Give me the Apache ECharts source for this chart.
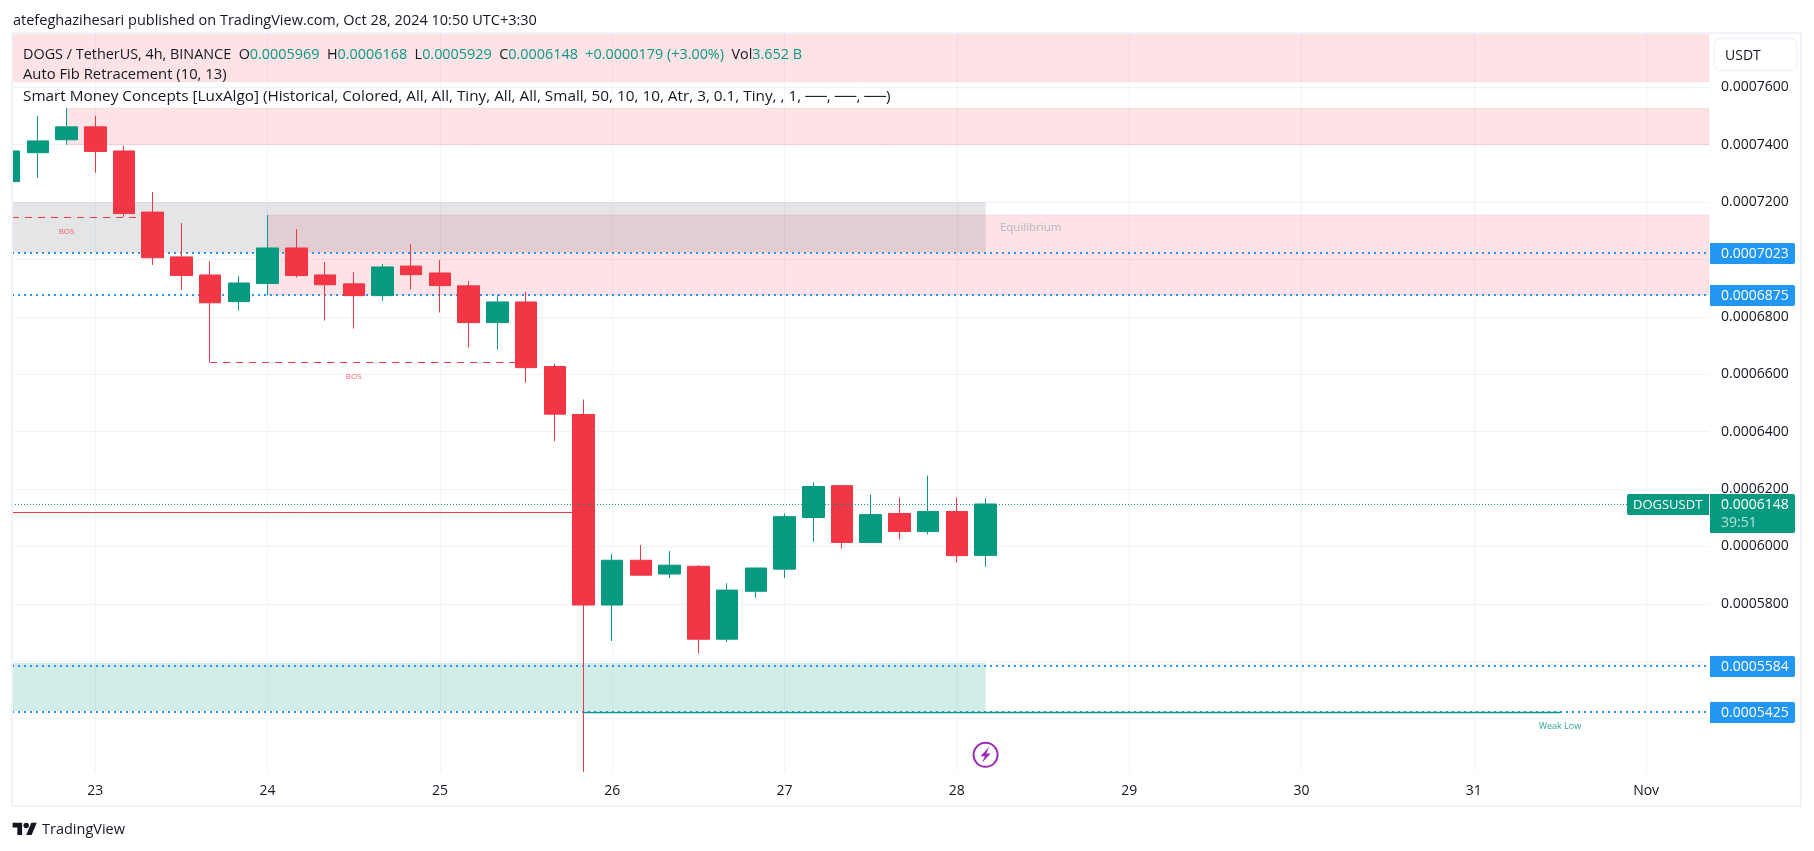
<!DOCTYPE html>
<html>
<head>
<meta charset="utf-8">
<title>DOGS / TetherUS</title>
<script src="https://cdn.jsdelivr.net/npm/echarts@6/dist/echarts.min.js"></script>
<style>
  html, body { margin: 0; padding: 0; background: #fff; }
  #chart { width: 1814px; height: 851px; }
</style>
</head>
<body>
<div id="chart"></div>
<script>
// 4h candles (first one is cut by the pane edge)
const opens = [0.0007271, 0.0007372, 0.0007417, 0.0007462, 0.0007378, 0.0007165, 0.0007009, 0.0006946, 0.0006853, 0.0006916,
  0.000704, 0.0006946, 0.0006915, 0.0006874, 0.0006977, 0.0006953, 0.0006908, 0.000678, 0.0006852, 0.0006627,
  0.000646, 0.0005796, 0.0005952, 0.0005904, 0.0005931, 0.0005677, 0.0005844, 0.0005921, 0.0006101, 0.0006212,
  0.0006014, 0.0006115, 0.0006052, 0.0006122, 0.0005969];
const closes = [0.0007378, 0.0007413, 0.0007462, 0.0007376, 0.000716, 0.0007006, 0.0006944, 0.0006849, 0.0006918, 0.000704,
  0.0006944, 0.0006912, 0.0006874, 0.0006974, 0.0006947, 0.0006909, 0.000678, 0.0006852, 0.0006623, 0.0006461,
  0.0005796, 0.0005952, 0.00059, 0.0005935, 0.0005677, 0.0005848, 0.0005925, 0.0006104, 0.0006209, 0.0006014,
  0.0006111, 0.0006052, 0.0006122, 0.0005968, 0.0006148];
const lows = [0.0007271, 0.0007285, 0.00074, 0.0007302, 0.0007148, 0.0006981, 0.0006894, 0.0006642, 0.0006822, 0.0006876,
  0.0006937, 0.0006787, 0.0006759, 0.0006856, 0.0006895, 0.0006815, 0.0006693, 0.0006686, 0.0006571, 0.0006367,
  0.0005215, 0.0005671, 0.00059, 0.000589, 0.0005628, 0.0005667, 0.0005823, 0.000589, 0.0006017, 0.0005993,
  0.0006014, 0.0006024, 0.0006042, 0.0005944, 0.0005929];
const highs = [0.0007378, 0.00075, 0.0007527, 0.00075, 0.0007395, 0.0007235, 0.0007127, 0.0006995, 0.0006942, 0.0007155,
  0.0007106, 0.0006991, 0.0006956, 0.0006984, 0.0007054, 0.0006998, 0.0006925, 0.0006876, 0.0006887, 0.0006637,
  0.0006512, 0.0005973, 0.0006005, 0.0005984, 0.0005935, 0.0005872, 0.0005925, 0.0006115, 0.0006223, 0.0006212,
  0.0006181, 0.0006171, 0.0006247, 0.0006171, 0.0006168];

const dayTicks = [3, 9, 15, 21, 27, 33, 39, 45, 51, 57];
const dayLabels = ['23', '24', '25', '26', '27', '28', '29', '30', '31', 'Nov'];
const priceTicks = [0.00054, 0.00056, 0.00058, 0.0006, 0.00062, 0.00064, 0.00066, 0.00068, 0.0007, 0.00072, 0.00074, 0.00076];
// 0.00056 sits fully behind the 0.0005584 tag
const priceLabels = [0.00054, 0.00058, 0.0006, 0.00062, 0.00064, 0.00066, 0.00068, 0.0007, 0.00072, 0.00074, 0.00076];

const xMin = 0.1;
const xMax = 59.19;
const yMin = 0.00052143;
const yMax = 0.0007789;

// smart money zones
const zoneKinds = ['supply', 'supply', 'supply', 'equilibrium', 'demand'];
const zoneStarts = [xMin, 2, 9, xMin, xMin];
const zoneEnds = [xMax, xMax, xMax, 34, 34];
const zoneTops = [yMax, 0.0007527, 0.0007155, 0.00072, 0.0005594];
const zoneBottoms = [0.000762, 0.0007399, 0.0006876, 0.0007023, 0.0005427];

// BOS dashes, red level, weak low line
const segmentKinds = ['bos', 'bos', 'red', 'weak'];
const segmentStarts = [xMin, 7, xMin, 20];
const segmentEnds = [4.47, 18, 20, 54];
const segmentValues = [0.0007147, 0.0006642, 0.0006121, 0.0005422];

const noteTexts = ['BOS', 'BOS', 'Equilibrium', 'Weak Low'];
const noteKinds = ['bos', 'bos', 'equilibrium', 'weak'];
const noteSlots = [2, 12, 34.5, 54];
const noteValues = [0.0007096, 0.0006591, 0.000711, 0.0005372];

const levelValues = [0.0007023, 0.0006875, 0.0005584, 0.0005425];
const lastPrice = 0.0006148;
const countdown = '39:51';
const eventSlot = 34;
const eventValue = 0.0005274;

const UP = '#089981';
const DOWN = '#f23645';
const BLUE = '#2196f3';
const INK = '#131722';
const GRID = '#f0f3fa';
const FONT = '"Open Sans", sans-serif';

const zoneStyles = {
  supply: { fill: 'rgba(242,54,69,0.14)', stroke: 'rgba(242,54,69,0.1)' },
  equilibrium: { fill: 'rgba(120,123,134,0.2)', stroke: 'none' },
  demand: { fill: 'rgba(8,153,129,0.18)', stroke: 'none' }
};
const segmentStyles = {
  bos: { stroke: DOWN, lineWidth: 1, lineDash: [7, 6] },
  red: { stroke: DOWN, lineWidth: 1 },
  weak: { stroke: UP, lineWidth: 1.5 }
};
const noteStyles = {
  bos: { fill: 'rgba(242,54,69,0.8)', font: '8px ' + FONT, align: 'center' },
  equilibrium: { fill: '#b2b5be', font: '500 11.5px ' + FONT, align: 'left' },
  weak: { fill: 'rgba(8,153,129,0.85)', font: '9px ' + FONT, align: 'center' }
};

const candles = opens.map((o, i) => [i, o, closes[i], lows[i], highs[i]]);

function priceBox(y0, h, color) {
  return { type: 'rect', shape: { x: 1710, y: y0, width: 85, height: h, r: [0, 2, 2, 0] }, style: { fill: color } };
}
function priceText(text, y, color) {
  return { type: 'text', style: { text: text, x: 1721, y: y, fill: color, font: '14px ' + FONT, verticalAlign: 'middle' } };
}

const chart = echarts.init(document.getElementById('chart'));
chart.setOption({
  animation: false,
  backgroundColor: '#fff',
  textStyle: { fontFamily: FONT },
  grid: { left: 12, top: 33, width: 1697, height: 739 },
  xAxis: {
    type: 'value',
    min: xMin,
    max: xMax,
    axisLine: { show: false },
    axisTick: { show: false, customValues: dayTicks },
    splitLine: { show: true, lineStyle: { color: GRID, width: 1 } },
    axisLabel: {
      customValues: dayTicks,
      color: INK,
      fontSize: 14,
      margin: 12,
      formatter: v => dayLabels[dayTicks.indexOf(v)]
    }
  },
  yAxis: {
    type: 'value',
    position: 'right',
    min: yMin,
    max: yMax,
    axisLine: { show: false },
    axisTick: { show: false, customValues: priceTicks },
    splitLine: { show: true, lineStyle: { color: GRID, width: 1 } },
    axisLabel: {
      customValues: priceLabels,
      color: INK,
      fontSize: 14,
      margin: 12,
      padding: [3, 0, 0, 0],
      formatter: v => v.toFixed(7)
    }
  },
  series: [
    {
      name: 'zones',
      type: 'custom',
      z: 1,
      clip: true,
      silent: true,
      data: zoneKinds.map((k, i) => [zoneStarts[i], zoneEnds[i], zoneTops[i], zoneBottoms[i]]),
      encode: { x: [0, 1], y: [2, 3] },
      renderItem(params, api) {
        const a = api.coord([api.value(0), api.value(2)]);
        const b = api.coord([api.value(1), api.value(3)]);
        return {
          type: 'rect',
          shape: { x: a[0], y: a[1], width: b[0] - a[0], height: b[1] - a[1] },
          style: zoneStyles[zoneKinds[params.dataIndex]]
        };
      }
    },
    {
      name: 'levels',
      type: 'custom',
      z: 2,
      silent: true,
      data: levelValues.map(v => [xMin, v]),
      encode: { x: 0, y: 1 },
      renderItem(params, api) {
        const p = api.coord([xMin, api.value(1)]);
        const end = api.coord([xMax, api.value(1)]);
        const y = Math.round(p[1]);
        return {
          type: 'line',
          shape: { x1: p[0], y1: y, x2: end[0], y2: y },
          style: { stroke: BLUE, lineWidth: 2, lineDash: [2, 4] }
        };
      }
    },
    {
      name: 'segments',
      type: 'custom',
      z: 3,
      silent: true,
      data: segmentKinds.map((k, i) => [segmentStarts[i], segmentEnds[i], segmentValues[i]]),
      encode: { x: [0, 1], y: 2 },
      renderItem(params, api) {
        const a = api.coord([api.value(0), api.value(2)]);
        const b = api.coord([api.value(1), api.value(2)]);
        const y = Math.round(a[1]) + 0.5;
        return {
          type: 'line',
          shape: { x1: a[0], y1: y, x2: b[0], y2: y },
          style: segmentStyles[segmentKinds[params.dataIndex]]
        };
      }
    },
    {
      name: 'DOGSUSDT',
      type: 'candlestick',
      z: 5,
      barWidth: 22,
      clip: true,
      silent: true,
      data: candles,
      encode: { x: 0, y: [1, 2, 3, 4] },
      itemStyle: { color: UP, color0: DOWN, borderColor: UP, borderColor0: DOWN, borderWidth: 1 }
    },
    {
      name: 'last price',
      type: 'custom',
      z: 6,
      silent: true,
      data: [[xMin, lastPrice]],
      encode: { x: 0, y: 1 },
      renderItem(params, api) {
        const p = api.coord([xMin, api.value(1)]);
        const y = Math.round(p[1]) + 0.5;
        return {
          type: 'line',
          shape: { x1: p[0], y1: y, x2: 1627, y2: y },
          style: { stroke: UP, lineWidth: 1, lineDash: [1, 2] }
        };
      }
    },
    {
      name: 'notes',
      type: 'custom',
      z: 7,
      silent: true,
      data: noteTexts.map((t, i) => [noteSlots[i], noteValues[i]]),
      encode: { x: 0, y: 1 },
      renderItem(params, api) {
        const p = api.coord([api.value(0), api.value(1)]);
        const s = noteStyles[noteKinds[params.dataIndex]];
        return {
          type: 'text',
          style: { text: noteTexts[params.dataIndex], x: p[0], y: p[1], fill: s.fill, font: s.font, align: s.align, verticalAlign: 'middle' }
        };
      }
    },
    {
      name: 'event',
      type: 'custom',
      z: 7,
      silent: true,
      data: [[eventSlot, eventValue]],
      encode: { x: 0, y: 1 },
      renderItem(params, api) {
        const p = api.coord([api.value(0), api.value(1)]);
        return {
          type: 'group',
          children: [
            { type: 'circle', shape: { cx: p[0], cy: p[1], r: 12 }, style: { fill: '#fff', stroke: '#9c27b0', lineWidth: 2 } },
            {
              type: 'path',
              shape: { pathData: 'M17 1L5 14h6l-4 9 12-13h-6z', layout: 'center', x: p[0] - 7, y: p[1] - 8, width: 14, height: 16 },
              style: { fill: '#9c27b0' }
            }
          ]
        };
      }
    },
    {
      name: 'price labels',
      type: 'custom',
      z: 20,
      silent: true,
      data: levelValues.map(v => [xMax, v]),
      encode: { x: 0, y: 1 },
      renderItem(params, api) {
        const y = Math.round(api.coord([xMax, api.value(1)])[1]);
        return {
          type: 'group',
          children: [
            priceBox(y - 10, 21, BLUE),
            priceText(api.value(1).toFixed(7), y + 1.5, '#fff')
          ]
        };
      }
    },
    {
      name: 'last price label',
      type: 'custom',
      z: 20,
      silent: true,
      data: [[xMax, lastPrice]],
      encode: { x: 0, y: 1 },
      renderItem(params, api) {
        const y = Math.round(api.coord([xMax, api.value(1)])[1]);
        return {
          type: 'group',
          children: [
            { type: 'rect', shape: { x: 1627, y: y - 10, width: 82, height: 21, r: [2, 0, 0, 2] }, style: { fill: UP } },
            { type: 'text', style: { text: 'DOGSUSDT', x: 1633, y: y + 1, fill: '#fff', font: '13px ' + FONT, verticalAlign: 'middle' } },
            priceBox(y - 10, 39, UP),
            priceText(api.value(1).toFixed(7), y + 1.5, '#fff'),
            priceText(countdown, y + 19.5, 'rgba(255,255,255,0.7)')
          ]
        };
      }
    }
  ],
  graphic: [
    // hides the part of the first candle that falls left of the pane
    { type: 'rect', z: 29, silent: true, shape: { x: 0, y: 33, width: 12, height: 740 }, style: { fill: '#fff' } },
    { type: 'rect', z: 30, silent: true, shape: { x: 12, y: 33, width: 1789, height: 773 }, style: { fill: 'none', stroke: GRID, lineWidth: 2 } },
    { type: 'text', z: 30, silent: true, style: { x: 13, y: 21, text: 'atefeghazihesari published on TradingView.com, Oct 28, 2024 10:50 UTC+3:30', fill: INK, font: '14.5px ' + FONT, verticalAlign: 'middle' } },
    {
      type: 'text', z: 30, silent: true,
      style: {
        x: 23, y: 55, verticalAlign: 'middle',
        text: '{k|DOGS / TetherUS, 4h, BINANCE  O}{g|0.0005969}{k|  H}{g|0.0006168}{k|  L}{g|0.0005929}{k|  C}{g|0.0006148}{g|  +0.0000179 (+3.00%)}{k|  Vol}{g|3.652 B}',
        rich: {
          k: { fill: INK, font: '14.4px ' + FONT },
          g: { fill: UP, font: '14.4px ' + FONT }
        }
      }
    },
    { type: 'text', z: 30, silent: true, style: { x: 23, y: 75, text: 'Auto Fib Retracement (10, 13)', fill: INK, font: '14.8px ' + FONT, verticalAlign: 'middle' } },
    { type: 'text', z: 30, silent: true, style: { x: 23, y: 97, text: 'Smart Money Concepts [LuxAlgo] (Historical, Colored, All, All, Tiny, All, All, Small, 50, 10, 10, Atr, 3, 0.1, Tiny, , 1, ──, ──, ──)', fill: INK, font: '15.3px ' + FONT, verticalAlign: 'middle' } },
    { type: 'rect', z: 30, silent: true, shape: { x: 1714, y: 38.5, width: 83, height: 32, r: 6 }, style: { fill: '#fff', stroke: GRID, lineWidth: 1.5 } },
    { type: 'text', z: 31, silent: true, style: { x: 1725, y: 56, text: 'USDT', fill: INK, font: '14px ' + FONT, verticalAlign: 'middle' } },
    {
      type: 'group', z: 30, silent: true,
      x: 12.6, y: 820, scaleX: 0.68, scaleY: 0.68,
      children: [
        { type: 'polygon', shape: { points: [[0, 4], [14, 4], [14, 22], [7, 22], [7, 11], [0, 11]] }, style: { fill: INK } },
        { type: 'polygon', shape: { points: [[20, 22], [27.5, 4], [35.5, 4], [28, 22]] }, style: { fill: INK } },
        { type: 'circle', shape: { cx: 20, cy: 8, r: 4 }, style: { fill: INK } }
      ]
    },
    { type: 'text', z: 30, silent: true, style: { x: 42, y: 830, text: 'TradingView', fill: INK, font: '500 14.5px ' + FONT, verticalAlign: 'middle' } }
  ]
});
</script>
</body>
</html>
